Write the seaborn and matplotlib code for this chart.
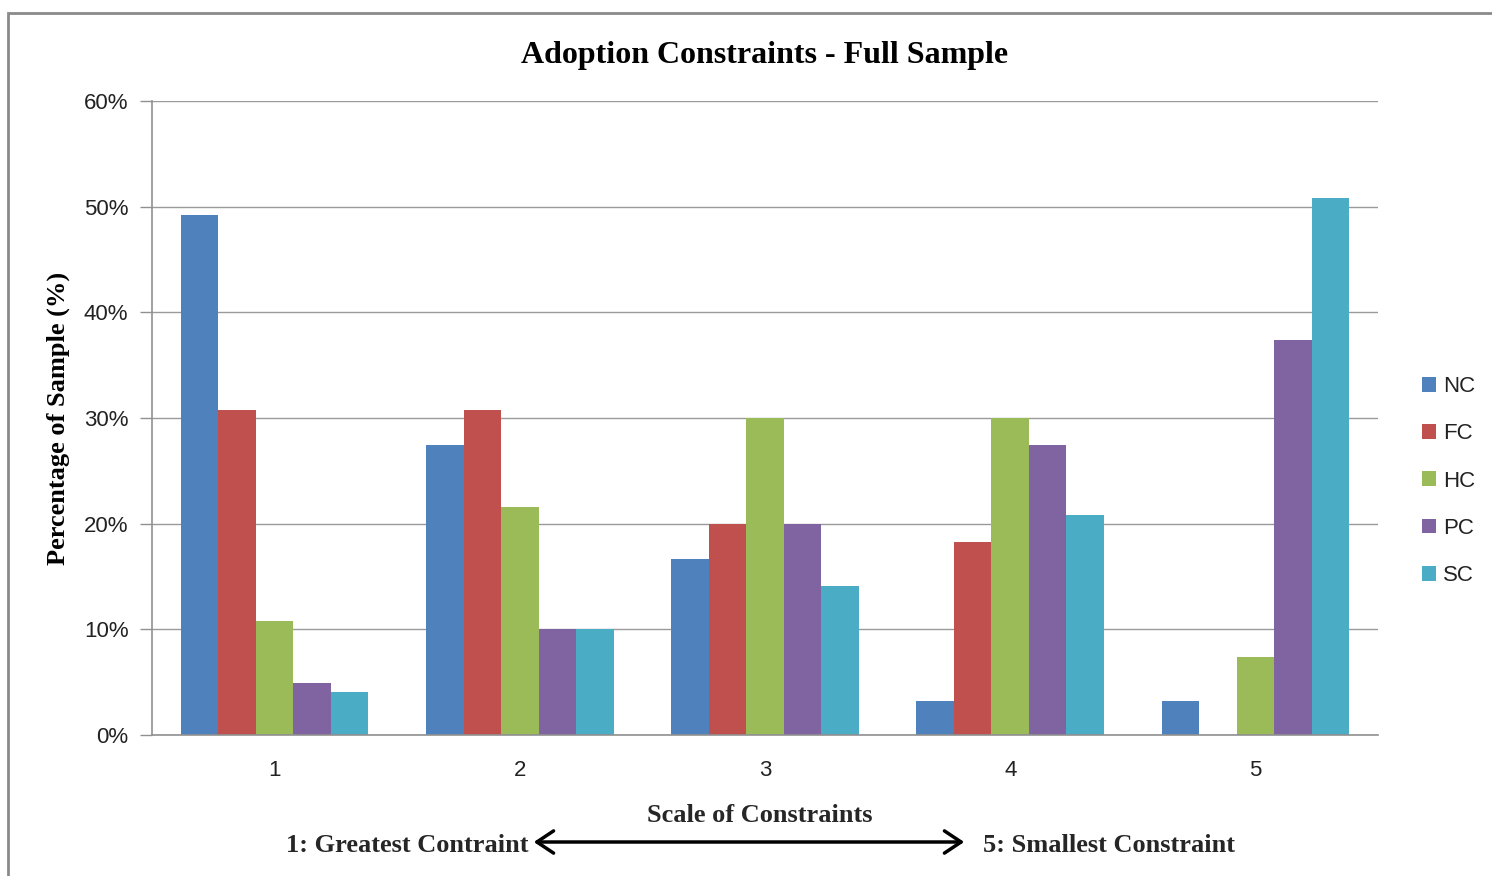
import matplotlib
matplotlib.use("Agg")
import matplotlib.pyplot as plt
from matplotlib.patches import Rectangle, FancyArrowPatch
import seaborn as sns
import pandas as pd

categories = ["1", "2", "3", "4", "5"]
series_names = ["NC", "FC", "HC", "PC", "SC"]
NC = [49.2, 27.4, 16.7, 3.2, 3.2]
FC = [30.8, 30.8, 20.0, 18.3, 0.0]
HC = [10.8, 21.6, 30.0, 30.0, 7.4]
PC = [4.9, 10.0, 20.0, 27.4, 37.4]
SC = [4.1, 10.0, 14.1, 20.8, 50.8]
y_ticks = [0, 10, 20, 30, 40, 50, 60]
y_tick_labels = ["0%", "10%", "20%", "30%", "40%", "50%", "60%"]
colors = ["#4F81BD", "#C0504D", "#9BBB59", "#8064A2", "#4BACC6"]

rows = []
for name, vals in zip(series_names, [NC, FC, HC, PC, SC]):
    for c, v in zip(categories, vals):
        rows.append({"Scale": c, "Series": name, "Value": v})
df = pd.DataFrame(rows)

sns.set_theme(style="white")
plt.rcParams["font.family"] = ["Liberation Sans", "DejaVu Sans"]

fig = plt.figure(figsize=(14.92, 8.76), dpi=100)
ax = fig.add_axes([152/1492, 1-735/876, 1226/1492, 634/876])

sns.barplot(data=df, x="Scale", y="Value", hue="Series", order=categories,
            hue_order=series_names, palette=colors, width=0.765, gap=0,
            saturation=1, edgecolor="none", linewidth=0, ax=ax, legend=True)

ax.set_xlim(-0.5, 4.5)
ax.set_ylim(0, 60)
ax.set_yticks(y_ticks)
ax.set_yticklabels(y_tick_labels, fontsize=16, color="#222222")
ax.tick_params(axis="y", length=9, width=1, color="#909090", left=True, pad=8)
ax.tick_params(axis="x", length=0, labelsize=16, labelcolor="#222222", pad=18)
ax.yaxis.grid(True, color="#9a9a9a", linewidth=1)
ax.set_axisbelow(True)
for s in ["top", "right"]:
    ax.spines[s].set_visible(False)
for s in ["left", "bottom"]:
    ax.spines[s].set_color("#909090")
    ax.spines[s].set_linewidth(1.2)

ax.set_xlabel("")
ax.set_ylabel("Percentage of Sample (%)", fontsize=19, fontweight="bold",
              family="Liberation Serif", labelpad=10, color="black")

ax.set_title("Adoption Constraints - Full Sample", fontsize=23, fontweight="bold",
             family="Liberation Serif", pad=27, color="black")

leg = ax.legend(loc="center left", bbox_to_anchor=(1270/1226, 1 - (481-101)/634),
                frameon=False, fontsize=16, handlelength=0.65, handleheight=0.65,
                handletextpad=0.3, labelspacing=1.18, borderpad=0, borderaxespad=0)
for t in leg.get_texts():
    t.set_color("#222222")

fig.text(760/1492, 1-815/876, "Scale of Constraints", ha="center", va="center",
         fontsize=19, fontweight="bold", family="Liberation Serif")
fig.text(528/1492, 1-845/876, "1: Greatest Contraint", ha="right", va="center",
         fontsize=19, fontweight="bold", family="Liberation Serif")
fig.text(983/1492, 1-845/876, "5: Smallest Constraint", ha="left", va="center",
         fontsize=19, fontweight="bold", family="Liberation Serif")
arrow = FancyArrowPatch((531/1492, 1-842/876), (967/1492, 1-842/876),
                        transform=fig.transFigure, arrowstyle="<->,head_length=12,head_width=8",
                        color="black", linewidth=2.5, mutation_scale=1)
fig.patches.append(arrow)

border = Rectangle((8/1492, -0.05), 1.1, 1-13/876 + 0.05, transform=fig.transFigure,
                   fill=False, edgecolor="#8a8a8a", linewidth=2, clip_on=False)
fig.patches.append(border)

fig.savefig("out.png", dpi=100)
